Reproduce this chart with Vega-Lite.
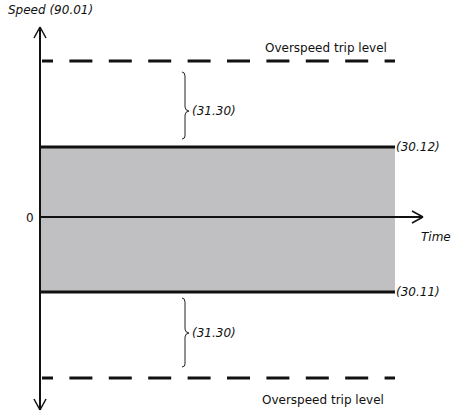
{
  "$schema": "https://vega.github.io/schema/vega-lite/v6.json",
  "width": 451,
  "height": 412,
  "padding": 0,
  "autosize": {"type": "fit", "contains": "padding"},
  "background": "white",
  "config": {"view": {"stroke": null}},
  "encoding": {
    "x": {"field": "t", "type": "quantitative", "scale": {"domain": [-40, 411], "nice": false, "zero": false}, "axis": null},
    "y": {"field": "v", "type": "quantitative", "scale": {"domain": [-195, 217], "nice": false, "zero": false}, "axis": null}
  },
  "layer": [
    {
      "data": {"values": [{"t": 0, "t2": 355, "v": 70, "v2": -75}]},
      "mark": {"type": "rect", "color": "#c0c0c2"},
      "encoding": {"x2": {"field": "t2"}, "y2": {"field": "v2"}}
    },
    {
      "data": {"values": [{"t": 0, "t2": 355, "v": 70}, {"t": 0, "t2": 355, "v": -75}]},
      "mark": {"type": "rule", "color": "#111111", "strokeWidth": 3},
      "encoding": {"x2": {"field": "t2"}}
    },
    {
      "data": {"values": [{"t": 2, "t2": 355, "v": 156}, {"t": 2, "t2": 355, "v": -161}]},
      "mark": {"type": "rule", "color": "#111111", "strokeWidth": 3, "strokeDash": [23, 16.4], "strokeDashOffset": 12},
      "encoding": {"x2": {"field": "t2"}}
    },
    {
      "data": {"values": [
        {"part": "yaxis", "t": 0, "t2": 0, "v": 190, "v2": -193, "w": 2},
        {"part": "xaxis", "t": 0, "t2": 383, "v": 0, "v2": 0, "w": 2},
        {"part": "top-l", "t": 0, "t2": -6, "v": 190, "v2": 179, "w": 1.5},
        {"part": "top-r", "t": 0, "t2": 6, "v": 190, "v2": 179, "w": 1.5},
        {"part": "bot-l", "t": 0, "t2": -6, "v": -193, "v2": -182, "w": 1.5},
        {"part": "bot-r", "t": 0, "t2": 6, "v": -193, "v2": -182, "w": 1.5},
        {"part": "x-u", "t": 383, "t2": 372, "v": 0, "v2": 6, "w": 1.5},
        {"part": "x-d", "t": 383, "t2": 372, "v": 0, "v2": -6, "w": 1.5}
      ]},
      "mark": {"type": "rule", "color": "#111111"},
      "encoding": {
        "x2": {"field": "t2"},
        "y2": {"field": "v2"},
        "strokeWidth": {"field": "w", "type": "quantitative", "scale": null}
      }
    },
    {
      "data": {"values": [
        {"b": "top", "i": 0, "t": 142, "v": 145},
        {"b": "top", "i": 1, "t": 144.2, "v": 144},
        {"b": "top", "i": 2, "t": 145, "v": 141},
        {"b": "top", "i": 3, "t": 145, "v": 110},
        {"b": "top", "i": 4, "t": 146, "v": 107.3},
        {"b": "top", "i": 5, "t": 149, "v": 106},
        {"b": "top", "i": 6, "t": 146, "v": 104.7},
        {"b": "top", "i": 7, "t": 145, "v": 102},
        {"b": "top", "i": 8, "t": 145, "v": 81},
        {"b": "top", "i": 9, "t": 144.2, "v": 78.8},
        {"b": "top", "i": 10, "t": 142, "v": 78},
        {"b": "bot", "i": 0, "t": 142, "v": -81},
        {"b": "bot", "i": 1, "t": 144.2, "v": -82},
        {"b": "bot", "i": 2, "t": 145, "v": -85},
        {"b": "bot", "i": 3, "t": 145, "v": -112},
        {"b": "bot", "i": 4, "t": 146, "v": -114.7},
        {"b": "bot", "i": 5, "t": 149, "v": -116},
        {"b": "bot", "i": 6, "t": 146, "v": -117.3},
        {"b": "bot", "i": 7, "t": 145, "v": -120},
        {"b": "bot", "i": 8, "t": 145, "v": -147},
        {"b": "bot", "i": 9, "t": 144.2, "v": -149.2},
        {"b": "bot", "i": 10, "t": 142, "v": -150}
      ]},
      "mark": {"type": "line", "color": "#222222", "strokeWidth": 1, "interpolate": "linear"},
      "encoding": {
        "detail": {"field": "b", "type": "nominal"},
        "order": {"field": "i", "type": "quantitative"}
      }
    },
    {
      "data": {"values": [
        {"t": 225, "v": 169, "label": "Overspeed trip level"},
        {"t": 222, "v": -183, "label": "Overspeed trip level"},
        {"t": -14, "v": -1, "label": "0"}
      ]},
      "mark": {"type": "text", "align": "left", "baseline": "middle", "font": "DejaVu Sans", "fontSize": 12, "color": "#111111"},
      "encoding": {"text": {"field": "label"}}
    },
    {
      "data": {"values": [
        {"t": -32, "v": 207, "label": "Speed (90.01)"},
        {"t": 356, "v": 70, "label": "(30.12)"},
        {"t": 356, "v": -75, "label": "(30.11)"},
        {"t": 152, "v": 106, "label": "(31.30)"},
        {"t": 152, "v": -116, "label": "(31.30)"},
        {"t": 381, "v": -20, "label": "Time"}
      ]},
      "mark": {"type": "text", "align": "left", "baseline": "middle", "font": "DejaVu Sans", "fontSize": 12, "fontStyle": "italic", "color": "#111111"},
      "encoding": {"text": {"field": "label"}}
    }
  ]
}
